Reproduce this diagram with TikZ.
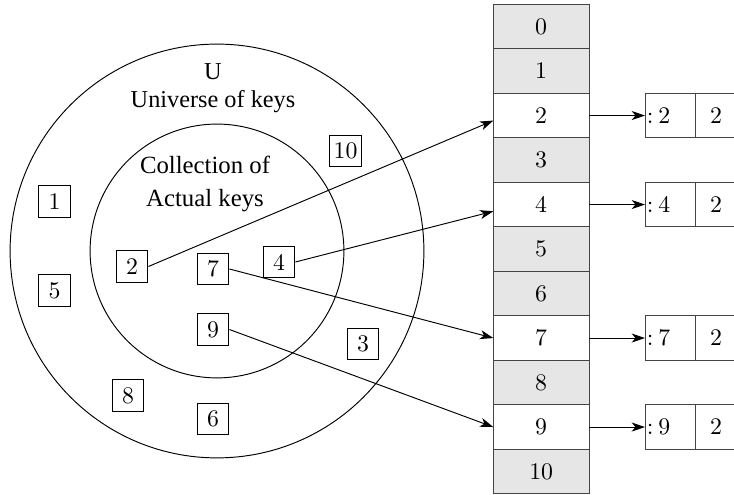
\documentclass[tikz,border=0pt]{standalone}
\usepackage{fontspec}
\newfontfamily\labelfont{Liberation Serif}
\usetikzlibrary{arrows.meta,positioning}
\definecolor{slot}{HTML}{E6E6E6}
\definecolor{grid}{HTML}{444444}
\tikzset{
  >={Stealth[length=5.6pt,width=3.8pt,inset=1.6pt]},
  key/.style={draw,minimum size=13.4pt,inner sep=0pt},
  cell/.style={draw=grid,minimum width=40.2pt,minimum height=18.7pt,inner sep=0pt,outer sep=0pt},
  emptycell/.style={cell,fill=slot},
  usedcell/.style={cell,fill=white},
  lkey/.style={draw=grid,minimum height=18.7pt,text width=19.4pt,align=left,inner xsep=0.8pt,inner ysep=0pt,outer sep=0pt},
  lnext/.style={draw=grid,minimum width=17.6pt,minimum height=18.7pt,inner sep=0pt,outer sep=0pt},
  setlabel/.style={font=\labelfont\fontsize{10.2}{12}\selectfont,align=center},
}

\begin{document}
\begin{tikzpicture}[x=0.42pt,y=-0.42pt]
\useasboundingbox (0,0) rectangle (734,495);

% universe and actual keys
\coordinate (c) at (217,251);
\draw (c) circle[radius=86.9pt];
\draw (c) circle[radius=53.3pt];
\node[setlabel] (univ) at (213,88) {U\\Universe of keys};
\node[setlabel,font=\labelfont\fontsize{10.4}{14.1}\selectfont] (coll) at (205,184) {Collection of\\Actual keys};

\node[key] (k1) at (54.5,201.5) {1};
\node[key] (k5) at (54.5,290.5) {5};
\node[key] (k10) at (345.5,151) {10};
\node[key] (k2) at (132,266.5) {2};
\node[key] (k7) at (213,269) {7};
\node[key] (k4) at (279,262) {4};
\node[key] (k9) at (213,329.5) {9};
\node[key] (k3) at (363,344) {3};
\node[key] (k8) at (128,395.5) {8};
\node[key] (k6) at (213,419) {6};

% hash table
\foreach \i/\kind in {0/emptycell,1/emptycell,2/usedcell,3/emptycell,4/usedcell,5/emptycell,
                      6/emptycell,7/usedcell,8/emptycell,9/usedcell,10/emptycell}
  \node[\kind] (r\i) at (541.2,{26.55+44.5*\i}) {\i};

% chained elements
\foreach \i in {2,4,7,9} {
  \node[lkey,right=23.5pt of r\i] (l\i) {:\hspace{2pt}\i};
  \node[lnext,right=0pt of l\i] (n\i) {2};
  \draw[->] (r\i.east) -- (l\i.west);
}

\draw[->] (k2.east) -- (r2.186);
\draw[->] (k4.east) -- (r4.188);
\draw[->] (k7.east) -- (r7.west);
\draw[->] (k9.east) -- (r9.west);

\end{tikzpicture}
\end{document}
